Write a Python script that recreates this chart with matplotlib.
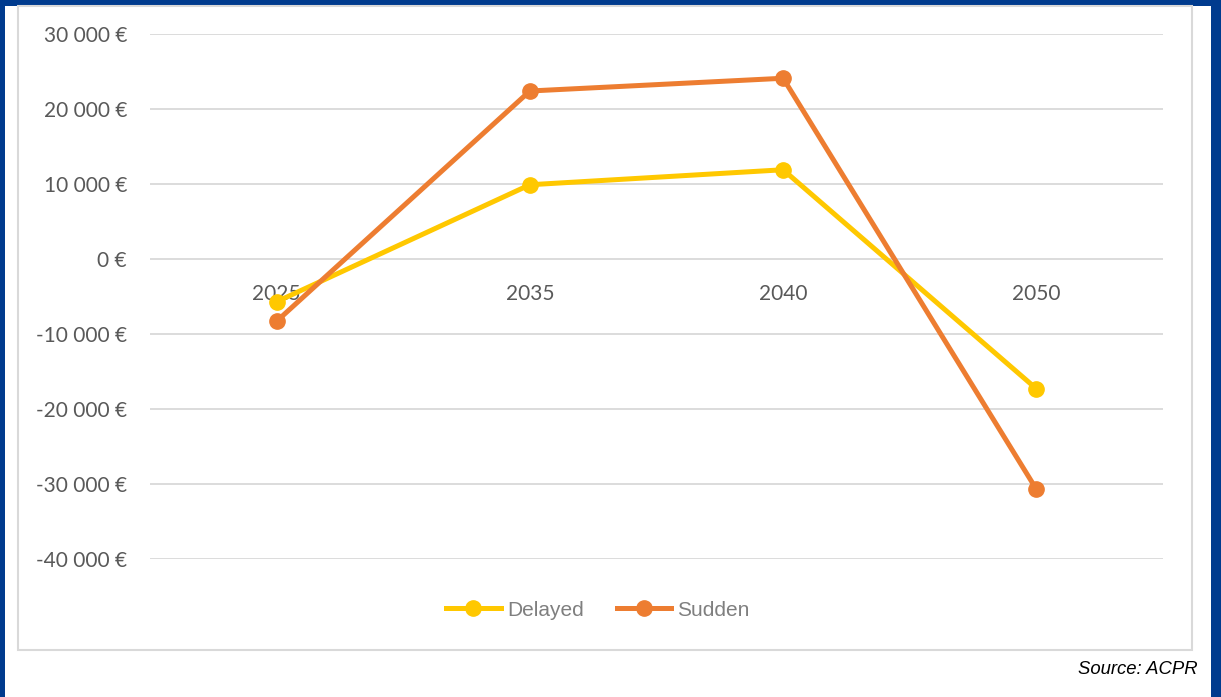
import matplotlib.pyplot as plt
from matplotlib.patches import Rectangle
from matplotlib.ticker import FuncFormatter

# data
years = ['2025', '2035', '2040', '2050']
delayed = [-5700, 9900, 11900, -17300]
sudden = [-8300, 22400, 24100, -30700]

W, H = 1221, 697
fig = plt.figure(figsize=(W / 100, H / 100), dpi=100)

# blue frame and light grey inner box
blue = '#003B8E'
fig.patches.append(Rectangle((0, 0), 1, 1, transform=fig.transFigure,
                             facecolor=blue, edgecolor='none', zorder=-3))
fig.patches.append(Rectangle((5 / W, 0), (1211 - 5) / W, 1 - 6 / H, transform=fig.transFigure,
                             facecolor='white', edgecolor='none', zorder=-2))
fig.patches.append(Rectangle((18 / W, 1 - 650 / H), (1192 - 18) / W, (650 - 6) / H,
                             transform=fig.transFigure, facecolor='white',
                             edgecolor='#d9d9d9', linewidth=1.5, zorder=-1))

ax = fig.add_axes([150 / W, 1 - 559 / H, (1163 - 150) / W, (559 - 34) / H])
ax.set_zorder(1)
ax.patch.set_alpha(0)

x = [i + 0.5 for i in range(len(years))]
ax.plot(x, delayed, color='#FFC800', lw=3.6, marker='o', ms=11, label='Delayed', zorder=3)
ax.plot(x, sudden, color='#ED7D31', lw=3.6, marker='o', ms=11, label='Sudden', zorder=3)

ax.set_xlim(0, 4)
ax.set_ylim(-40000, 30000)
ax.set_yticks(range(-40000, 30001, 10000))
ax.yaxis.set_major_formatter(FuncFormatter(lambda v, p: f'{int(v):,} €'.replace(',', ' ')))
ax.grid(axis='y', color='#d9d9d9', lw=1.3)
ax.set_axisbelow(True)
for s in ['top', 'right', 'left']:
    ax.spines[s].set_visible(False)
ax.spines['bottom'].set_position(('data', 0))
ax.spines['bottom'].set_visible(False)
ax.set_xticks(x)
ax.set_xticklabels(years)
ax.tick_params(axis='both', length=0, labelcolor='#595959')
ax.tick_params(axis='y', pad=16.5)
ax.tick_params(axis='x', pad=18)
for lab in ax.get_xticklabels() + ax.get_yticklabels():
    lab.set_fontfamily('Lato')
    lab.set_fontsize(15)

ax.legend(loc='center', bbox_to_anchor=((598 - 150) / (1163 - 150), (559 - 610) / (559 - 34)),
          ncol=2, frameon=False,
          prop={'family': 'Liberation Sans', 'size': 15}, labelcolor='#7f7f7f',
          handlelength=2.6, handletextpad=0.3, columnspacing=1.6)

fig.text(1198 / W, 1 - 670 / H, 'Source: ACPR', ha='right', va='center',
         fontstyle='italic', family='Liberation Sans', fontsize=13.3, color='black')

fig.savefig('out.png', dpi=100)
